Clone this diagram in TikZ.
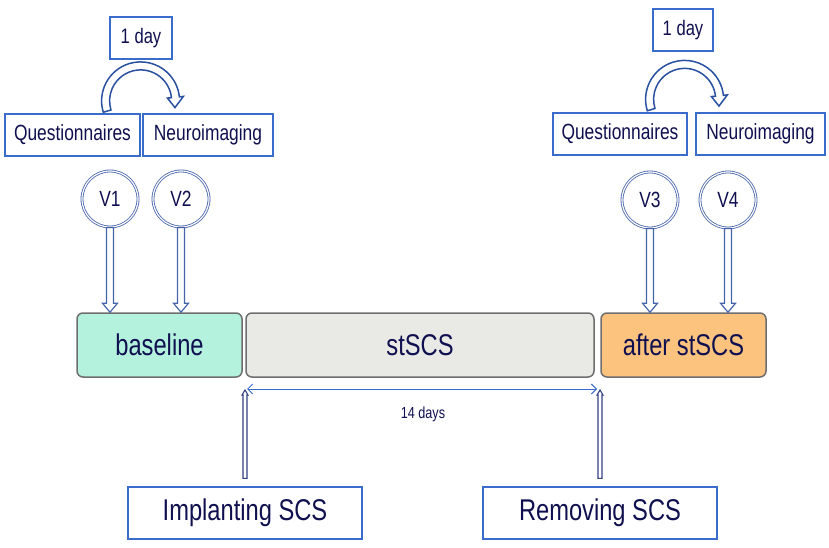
\documentclass[tikz,border=0pt]{standalone}
\usepackage{fontspec}
\setmainfont[FakeStretch=0.79]{Liberation Sans}
\usetikzlibrary{calc,arrows.meta}
\definecolor{txt}{RGB}{16,16,80}
\definecolor{bblue}{RGB}{58,108,204}
\definecolor{aline}{RGB}{42,80,160}
\definecolor{cline}{RGB}{70,100,170}
\definecolor{mint}{RGB}{180,242,222}
\definecolor{greyf}{RGB}{233,233,230}
\definecolor{orangef}{RGB}{252,195,127}
\definecolor{gborder}{RGB}{110,110,110}
\definecolor{vline}{RGB}{50,65,130}
\begin{document}
\begin{tikzpicture}[x=1pt,y=1pt,
  bluebox/.style={draw=bblue, line width=1.2pt, fill=white, text=txt, inner sep=0pt,
    minimum height=42pt, font=\fontsize{22}{26}\selectfont},
  daybox/.style={bluebox, font=\fontsize{21}{25}\selectfont},
  bigbox/.style={bluebox, minimum height=52pt, minimum width=234pt, font=\fontsize{30}{36}\selectfont},
  phase/.style={draw=gborder, line width=1.5pt, rounded corners=6pt, minimum height=64pt,
    inner sep=0pt, text=txt, font=\fontsize{30}{36}\selectfont},
  visit/.style={circle, draw=cline, double=white, double distance=1.2pt, line width=0.8pt,
    minimum size=56pt, inner sep=0pt, fill=white, text=txt, font=\fontsize{22}{26}\selectfont},
  hollowdown/.style={draw=cline, fill=white, line width=1.2pt, to path={
    let \p1=(\tikztostart), \p2=(\tikztotarget) in
    (\x1-3.5pt,\y1) -- (\x1-3.5pt,\y2+9pt) -- (\x1-7.5pt,\y2+9pt) -- (\x1,\y2)
    -- (\x1+7.5pt,\y2+9pt) -- (\x1+3.5pt,\y2+9pt) -- (\x1+3.5pt,\y1) -- cycle}},
  thinup/.style={draw=vline, fill=white, line width=1.1pt, to path={
    let \p1=(\tikztostart), \p2=(\tikztotarget) in
    (\x1-2pt,\y1) -- (\x1-2pt,\y2-5pt) -- (\x1-3pt,\y2-5pt) -- (\x1,\y2)
    -- (\x1+3pt,\y2-5pt) -- (\x1+2pt,\y2-5pt) -- (\x1+2pt,\y1) -- cycle}},
  arcarrow/.style={draw=aline, fill=white, line width=1.5pt, line join=miter},
  span/.style={draw=bblue, line width=1pt,
    {Straight Barb[length=5pt,width=10pt]}-{Straight Barb[length=5pt,width=10pt]}},
  small/.style={text=txt, font=\fontsize{16}{19}\selectfont}
]
\useasboundingbox (0,0) rectangle (829,-548);

% top boxes
\node[daybox, minimum width=62pt] (d1) at (141,-38) {1 day};
\node[daybox, minimum width=60pt] (d2) at (683,-30) {1 day};
\node[bluebox, minimum width=135pt] (q1) at (72.5,-135) {Questionnaires};
\node[bluebox, minimum width=130pt] (n1) at (208,-135) {Neuroimaging};
\node[bluebox, minimum width=134pt] (q2) at (620,-134) {Questionnaires};
\node[bluebox, minimum width=129pt] (n2) at (760.5,-134) {Neuroimaging};

% curved hollow arrows
\coordinate (c1) at ($(q1.north east)+(0,12.5)$);
\coordinate (c2) at ($(q2.north east)+(-3,13)$);
\foreach \c in {c1,c2}{
  \draw[arcarrow] ($(\c)+(197:39pt)$) arc[start angle=197, end angle=6, radius=39pt]
    -- ($(\c)+(6:43pt)$) -- ($(\c)+(-11:35pt)$) -- ($(\c)+(6:27pt)$) -- ($(\c)+(6:31pt)$)
    arc[start angle=6, end angle=197, radius=31pt] -- cycle;
}

% phases
\node[phase, fill=mint, minimum width=165pt] (base) at (159.5,-345) {baseline};
\node[phase, fill=greyf, minimum width=348pt] (sts) at (420,-345) {stSCS};
\node[phase, fill=orangef, minimum width=165pt] (aft) at (683.5,-345) {after stSCS};

% visits
\node[visit] (v1) at (110,-199) {V1};
\node[visit] (v2) at (181,-199) {V2};
\node[visit] (v3) at (650,-200) {V3};
\node[visit] (v4) at (728,-200) {V4};

\draw[hollowdown] (v1.south) to (v1 |- base.north);
\draw[hollowdown] (v2.south) to (v2 |- base.north);
\draw[hollowdown] (v3.south) to (v3 |- aft.north);
\draw[hollowdown] (v4.south) to (v4 |- aft.north);

% bottom
\node[bigbox] (imp) at (245,-513) {Implanting SCS};
\node[bigbox] (rem) at (600,-513) {Removing SCS};
\coordinate (lvl) at (0,-390);
\coordinate (it) at (imp.north |- lvl);
\coordinate (rt) at (rem.north |- lvl);
\draw[thinup] ($(imp.north)+(0,8)$) to (it);
\draw[thinup] ($(rem.north)+(0,8)$) to (rt);
\draw[span] ($(it)+(2,1)$) -- ($(rt)+(-3,1)$);
\node[small] (days) at (423,-414) {14 days};
\end{tikzpicture}
\end{document}
